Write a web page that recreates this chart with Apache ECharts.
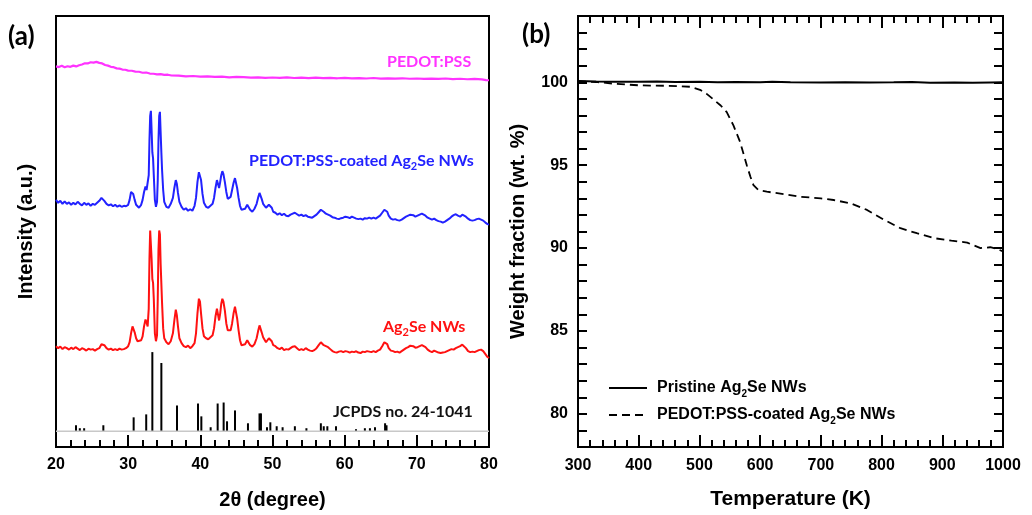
<!DOCTYPE html>
<html>
<head>
<meta charset="utf-8">
<script src="https://cdn.jsdelivr.net/npm/echarts@6/dist/echarts.min.js"></script>
<style>html,body{margin:0;padding:0;background:#fff}#c{width:1032px;height:515px}</style>
</head>
<body>
<div id="c"></div>
<script>
// ---------- Panel (a): XRD patterns, [2theta (deg), intensity (a.u., stacked offsets)] ----------
const pedotPss = [[20.0,385],[20.4,384.3],[20.8,385.6],[21.2,384.2],[21.6,385.2],[22.0,384.6],[22.4,385.8],[22.8,385],[23.2,386.2],[23.6,387],[24.0,388.2],[24.4,388],[24.8,389.2],[25.2,388.8],[25.6,389.6],[26.0,388.6],[26.4,388],[26.8,386.4],[27.2,385.8],[27.6,384.6],[28.0,384.2],[28.4,383],[28.8,382.8],[29.2,381.8],[29.6,381.6],[30.0,380.8],[30.5,380.6],[31.0,379.8],[31.5,379.6],[32.0,378.6],[32.5,378.8],[33.0,377.8],[33.5,377.6],[34.0,377],[34.5,377.2],[35.0,376.4],[35.5,376.6],[36.0,375.8],[37.0,375.6],[38.0,375],[39.0,375.3],[40.0,374.6],[41.0,375],[42.0,374.4],[43.0,374.6],[44.0,374],[45.0,374.4],[46.0,374.1],[47.0,373.6],[48.0,374],[49.0,373.5],[50.0,373.8],[51.0,373.4],[52.0,373.9],[53.0,373.3],[54.0,373.6],[55.0,373.2],[56.0,373.7],[57.0,373.1],[58.0,373.4],[59.0,373],[60.0,373.5],[61.0,372.9],[62.0,373.2],[63.0,372.8],[64.0,373.3],[65.0,372.7],[66.0,373],[67.0,372.6],[68.0,373],[69.0,372.5],[70.0,372.8],[71.0,372.4],[72.0,372.7],[73.0,372.3],[74.0,372.8],[75.0,372.2],[76.0,372.5],[77.0,372],[78.0,372.3],[79.0,371.8],[79.6,371.2],[80.0,371]];

const coatedAg2Se = [[20.0,250],[20.3,247],[20.6,249],[20.9,246],[21.2,248.5],[21.5,246],[21.8,247.5],[22.1,245],[22.4,247],[22.7,245.5],[23.0,248],[23.3,246],[23.6,244.5],[23.9,247],[24.2,245],[24.5,246.5],[24.8,244],[25.1,246],[25.4,245],[25.7,247],[26.0,249],[26.3,252],[26.5,253],[26.7,249],[27.0,246],[27.3,244.5],[27.6,245.5],[27.9,243.5],[28.2,245],[28.5,243],[28.8,244.5],[29.1,243],[29.4,244],[29.7,243.5],[30.0,245],[30.2,250],[30.4,258],[30.55,260],[30.7,256],[30.9,250],[31.1,245],[31.3,243],[31.5,242],[31.8,245],[32.0,250],[32.2,258],[32.4,263.5],[32.55,260],[32.7,258],[32.85,275],[32.95,310],[33.05,335],[33.15,340],[33.25,320],[33.35,298],[33.45,292],[33.55,275],[33.7,250],[33.85,243],[34.0,248],[34.1,270],[34.2,310],[34.3,335],[34.4,339],[34.5,318],[34.6,298],[34.7,280],[34.85,260],[35.0,248],[35.3,243],[35.6,242],[35.9,246],[36.2,252],[36.4,262],[36.6,270],[36.75,266],[36.9,257],[37.1,248],[37.4,243],[37.7,240],[38.0,241.5],[38.3,239],[38.6,240.5],[38.9,239],[39.2,244],[39.4,252],[39.6,268],[39.8,278],[39.95,279],[40.1,270],[40.3,256],[40.5,247],[40.8,243],[41.1,242],[41.4,244],[41.7,246],[41.9,252],[42.1,262],[42.3,270],[42.45,268],[42.6,262],[42.75,268],[42.9,275],[43.05,279],[43.2,276],[43.4,268],[43.6,258],[43.8,251],[44.0,250],[44.2,253],[44.4,260],[44.6,267],[44.8,272],[44.95,270],[45.1,262],[45.3,252],[45.5,244],[45.7,240],[45.9,239],[46.2,241],[46.5,245],[46.7,243],[46.9,240],[47.2,238],[47.5,241],[47.8,246],[48.0,252],[48.2,257],[48.35,256],[48.5,251],[48.7,246],[48.9,245],[49.1,242],[49.3,243],[49.5,245],[49.7,246],[49.9,242],[50.1,238],[50.4,237],[50.7,235],[51.0,236.5],[51.3,234.5],[51.6,236],[51.9,234],[52.2,233.5],[52.5,235],[52.8,236],[53.1,237],[53.4,235.5],[53.7,234],[54.0,235],[54.3,233.5],[54.6,234.5],[54.9,233],[55.2,232.5],[55.5,232],[55.8,233.5],[56.1,235],[56.4,237.5],[56.7,240],[56.9,240.5],[57.1,238],[57.4,236],[57.7,235],[58.0,234],[58.3,232.5],[58.6,232],[58.9,231],[59.2,230.5],[59.5,231.5],[59.8,232],[60.1,233],[60.4,232.5],[60.7,231.5],[61.0,233],[61.3,232],[61.6,231],[61.9,230.5],[62.2,231],[62.5,230],[62.8,231.5],[63.1,231],[63.4,232],[63.7,231],[64.0,232],[64.3,231],[64.6,232.5],[64.9,234],[65.2,237],[65.5,240],[65.7,240.5],[65.9,238],[66.1,234],[66.4,231],[66.7,230],[67.0,230.5],[67.3,229.5],[67.6,229],[67.9,230],[68.2,231.5],[68.5,233],[68.8,234],[69.1,235],[69.3,236],[69.5,234.5],[69.8,233],[70.1,234],[70.4,235],[70.7,236],[70.9,235.5],[71.2,234],[71.5,232],[71.8,231],[72.1,230],[72.4,231],[72.7,229.5],[73.0,228.5],[73.3,228],[73.6,227],[73.9,228],[74.2,229.5],[74.5,231],[74.8,233],[75.1,234.5],[75.4,235.5],[75.7,234],[76.0,233],[76.3,235],[76.5,235.5],[76.8,233],[77.1,231],[77.4,229.5],[77.7,229],[78.0,229.5],[78.3,230.5],[78.6,231],[78.9,230],[79.2,229],[79.5,227],[79.8,225.5],[80.0,225]];

const ag2seNWs = [[20.0,102],[20.3,100],[20.6,101.5],[20.9,99],[21.2,101],[21.5,100],[21.8,98.5],[22.1,100.5],[22.4,99],[22.7,101],[23.0,99.5],[23.3,98],[23.6,100],[23.9,99],[24.2,97.5],[24.5,99.5],[24.8,98.5],[25.1,99],[25.4,97.5],[25.7,99],[26.0,100],[26.3,104],[26.5,106],[26.7,103],[27.0,100],[27.3,98.5],[27.6,99.5],[27.9,98],[28.2,99],[28.5,98],[28.8,99.5],[29.1,98.5],[29.4,99],[29.7,100],[30.0,102],[30.2,106],[30.4,115],[30.6,122],[30.75,123],[30.9,116],[31.1,110],[31.3,107],[31.5,106],[31.8,108],[32.0,112],[32.2,122],[32.4,129],[32.55,126],[32.7,122],[32.85,140],[32.95,190],[33.05,219],[33.15,218],[33.25,190],[33.35,170],[33.45,166],[33.55,150],[33.7,115],[33.85,107],[34.0,113],[34.1,150],[34.2,200],[34.3,219],[34.4,215],[34.5,185],[34.6,165],[34.7,145],[34.85,120],[35.0,110],[35.3,106],[35.6,104],[35.9,107],[36.2,115],[36.4,128],[36.6,139],[36.75,133],[36.9,122],[37.1,110],[37.4,105],[37.7,102],[38.0,101],[38.3,102.5],[38.6,100],[38.9,102],[39.2,105],[39.4,115],[39.6,135],[39.8,150],[39.95,147],[40.1,135],[40.3,120],[40.5,112],[40.8,110],[41.1,109],[41.4,111],[41.7,113],[41.9,120],[42.1,132],[42.3,140],[42.45,138],[42.6,128],[42.75,135],[42.9,145],[43.05,150],[43.2,147],[43.4,138],[43.6,125],[43.8,118],[44.0,116],[44.2,118],[44.4,125],[44.6,135],[44.8,142],[44.95,140],[45.1,130],[45.3,118],[45.5,108],[45.7,103],[45.9,102],[46.2,104],[46.5,108],[46.7,106],[46.9,103],[47.2,101.5],[47.5,104],[47.8,110],[48.0,117],[48.2,123],[48.35,122],[48.5,116],[48.7,111],[48.9,110],[49.1,106],[49.3,107],[49.5,110],[49.7,111],[49.9,107],[50.1,103],[50.4,102],[50.7,100],[51.0,99],[51.3,100.5],[51.6,98],[51.9,99],[52.2,98.5],[52.5,100],[52.8,101.5],[53.1,102],[53.4,100],[53.7,98],[54.0,99],[54.3,98],[54.6,100],[54.9,98.5],[55.2,97.5],[55.5,97],[55.8,98],[56.1,100],[56.4,103],[56.7,106],[56.9,105.5],[57.1,103],[57.4,102],[57.7,101],[58.0,99],[58.3,97],[58.6,96],[58.9,95.5],[59.2,96.5],[59.5,97],[59.8,96],[60.1,97],[60.4,96.5],[60.7,95.5],[61.0,96.5],[61.3,96],[61.6,96.8],[61.9,95.5],[62.2,95],[62.5,96.5],[62.8,96],[63.1,97],[63.4,96.5],[63.7,96],[64.0,97],[64.3,96],[64.6,97.5],[64.9,98.5],[65.2,102],[65.5,106],[65.7,107],[65.9,104],[66.1,100],[66.4,97.5],[66.7,97],[67.0,96],[67.3,96.5],[67.6,95.5],[67.9,97],[68.2,98.5],[68.5,100],[68.8,101],[69.1,102.5],[69.3,104],[69.5,102],[69.8,100.5],[70.1,101],[70.4,102],[70.7,103],[70.9,103.5],[71.2,101],[71.5,98.5],[71.8,97],[72.1,96],[72.4,97.5],[72.7,96.5],[73.0,95.5],[73.3,95],[73.6,95.5],[73.9,96],[74.2,97],[74.5,98],[74.8,99],[75.1,98.5],[75.4,100],[75.7,101],[76.0,102],[76.3,103.5],[76.5,103],[76.8,100],[77.1,97],[77.4,96],[77.7,96.5],[78.0,96],[78.3,97],[78.6,98],[78.9,98.5],[79.2,97],[79.5,94],[79.8,91],[80.0,90]];

// JCPDS no. 24-1041 reference lines: [2theta, relative height]
const jcpdsLines = [[22.77,6],[23.3,3],[23.9,3],[26.56,6],[30.76,14],[32.5,17],[33.35,80],[34.6,69],[36.77,26],[39.68,28],[40.14,15],[41.43,4],[42.4,28],[43.23,29],[43.7,10],[44.8,21],[46.6,8],[48.2,18],[48.4,18],[49.24,4],[49.7,9],[50.58,5],[51.4,4],[53.1,5],[54.7,3],[56.7,8],[57.1,5],[57.6,5],[58.8,5],[61.57,2],[62.8,3],[63.5,3],[64.2,4],[65.6,8],[65.8,6]];
const jcpdsBaseline = 16;
const xrdRange = [20, 80];

// ---------- Panel (b): TGA, [Temperature (K), weight fraction (wt.%)] ----------
const pristineTGA = [[300,100.08],[330,100.05],[360,100.04],[400,100.03],[430,100.05],[460,100.02],[500,100.03],[530,100.01],[560,100.02],[600,100.0],[620,100.03],[650,100.0],[700,99.99],[740,100.01],[780,99.99],[820,100.0],[850,100.02],[880,99.98],[920,99.99],[950,99.97],[980,99.99],[1000,100.0]];
const coatedTGA = [[300,100.06],[330,100.02],[364,99.9],[400,99.82],[419,99.8],[450,99.79],[485,99.73],[501,99.55],[512,99.3],[523,98.97],[535,98.6],[545,98.2],[556,97.4],[567,96.4],[578,95.0],[584,94.3],[589,93.8],[597,93.5],[611,93.4],[640,93.25],[666,93.1],[700,93.0],[721,92.9],[749,92.7],[776,92.3],[803,91.73],[831,91.2],[858,90.9],[886,90.6],[915,90.45],[941,90.33],[963,90.0],[979,90.05],[990,89.95],[1000,89.8]];
const tgaNames = ['Pristine Ag2Se NWs', 'PEDOT:PSS-coated Ag2Se NWs'];

const chart = echarts.init(document.getElementById('c'), null, {renderer: 'canvas'});
const AR = 'Liberation Sans';
const tickStyle = {color: '#000', width: 2};
const subRich = (color, family, size) => ({sub: {fontSize: size, lineHeight: 10, verticalAlign: 'bottom', fontFamily: family, fontWeight: 'bold', color: color, fill: color}});
const richText = (txt, x, y, color, size) => ({
  type: 'text', x: x, y: y, z: 100,
  style: {text: txt, fontFamily: 'Lato', fontWeight: 'bold', fontSize: size, fill: color, lineHeight: 22, verticalAlign: 'middle', align: 'left', rich: subRich(color, 'Lato', 11)}
});
const plainNum = v => String(v);

const option = {
  animation: false,
  backgroundColor: '#fff',
  textStyle: {fontFamily: AR},
  grid: [
    {left: 56, top: 16, width: 433, height: 436, show: true, borderColor: '#000', borderWidth: 2, backgroundColor: 'transparent', containLabel: false},
    {left: 578, top: 16, width: 425, height: 436, show: true, borderColor: '#000', borderWidth: 2, backgroundColor: 'transparent', containLabel: false}
  ],
  xAxis: [
    {gridIndex: 0, type: 'value', min: xrdRange[0], max: xrdRange[1], interval: 10,
      axisLine: {show: false}, splitLine: {show: false},
      axisTick: {inside: true, length: 12, lineStyle: tickStyle},
      minorTick: {show: true, splitNumber: 5, length: 7, lineStyle: tickStyle},
      axisLabel: {margin: 10, color: '#000', fontWeight: 'bold', fontSize: 16, fontFamily: AR, formatter: plainNum},
      name: '2θ (degree)', nameLocation: 'middle', nameGap: 43,
      nameTextStyle: {color: '#000', fontWeight: 'bold', fontSize: 20, fontFamily: AR}},
    {gridIndex: 1, type: 'value', min: 300, max: 1000, interval: 100,
      axisLine: {show: false}, splitLine: {show: false},
      axisTick: {inside: true, length: 12, lineStyle: tickStyle},
      minorTick: {show: true, splitNumber: 5, length: 7, lineStyle: tickStyle},
      axisLabel: {margin: 11, color: '#000', fontWeight: 'bold', fontSize: 16, fontFamily: AR, formatter: plainNum},
      name: 'Temperature (K)', nameLocation: 'middle', nameGap: 42,
      nameTextStyle: {color: '#000', fontWeight: 'bold', fontSize: 21, fontFamily: AR}},
    {gridIndex: 1, type: 'value', position: 'top', min: 300, max: 1000, interval: 100,
      axisLine: {show: false}, splitLine: {show: false},
      axisTick: {inside: true, length: 12, lineStyle: tickStyle},
      minorTick: {show: true, splitNumber: 5, length: 7, lineStyle: tickStyle},
      axisLabel: {show: false}}
  ],
  yAxis: [
    {gridIndex: 0, type: 'value', min: 0, max: 436,
      axisLine: {show: false}, axisTick: {show: false}, axisLabel: {show: false}, splitLine: {show: false},
      name: 'Intensity (a.u.)', nameLocation: 'middle', nameGap: 20, nameRotate: 90,
      nameTextStyle: {color: '#000', fontWeight: 'bold', fontSize: 20, fontFamily: AR}},
    {gridIndex: 1, type: 'value', min: 78, max: 104, interval: 1,
      axisLine: {show: false}, splitLine: {show: false},
      axisTick: {inside: true, length: 9, lineStyle: tickStyle},
      axisLabel: {margin: 10, color: '#000', fontWeight: 'bold', fontSize: 16, fontFamily: AR,
        formatter: v => (v % 5 === 0 ? String(v) : '')},
      name: 'Weight fraction (wt. %)', nameLocation: 'middle', nameGap: 50, nameRotate: 90,
      nameTextStyle: {color: '#000', fontWeight: 'bold', fontSize: 20, fontFamily: AR}},
    {gridIndex: 1, type: 'value', position: 'right', min: 78, max: 104, interval: 1,
      axisLine: {show: false}, splitLine: {show: false},
      axisTick: {inside: true, length: 9, lineStyle: tickStyle},
      axisLabel: {show: false}}
  ],
  legend: {
    data: tgaNames, left: 603, top: 372, orient: 'vertical',
    itemWidth: 38, itemHeight: 14, itemGap: 5,
    itemStyle: {opacity: 0, borderWidth: 0},
    formatter: n => n.replace('Ag2Se', 'Ag{sub|2}Se'),
    textStyle: {fontFamily: AR, fontWeight: 'bold', fontSize: 16, color: '#000', lineHeight: 22, padding: [0, 0, 0, 5],
      rich: subRich('#000', AR, 10)}
  },
  series: [
    {name: 'PEDOT:PSS', type: 'line', xAxisIndex: 0, yAxisIndex: 0, data: pedotPss, symbol: 'none', smooth: false,
      lineStyle: {color: '#ff33ff', width: 2.2}},
    {name: 'PEDOT:PSS-coated Ag2Se NWs (XRD)', type: 'line', xAxisIndex: 0, yAxisIndex: 0, data: coatedAg2Se, symbol: 'none',
      lineStyle: {color: '#2222ff', width: 2}},
    {name: 'Ag2Se NWs', type: 'line', xAxisIndex: 0, yAxisIndex: 0, data: ag2seNWs, symbol: 'none',
      lineStyle: {color: '#ff1111', width: 2}},
    {name: 'JCPDS baseline', type: 'line', xAxisIndex: 0, yAxisIndex: 0, data: [[xrdRange[0], jcpdsBaseline], [xrdRange[1], jcpdsBaseline]],
      symbol: 'none', silent: true, lineStyle: {color: '#c8c8c8', width: 1.5}},
    {name: 'JCPDS no. 24-1041', type: 'custom', xAxisIndex: 0, yAxisIndex: 0, data: jcpdsLines,
      encode: {x: 0, y: 1},
      renderItem: (params, api) => {
        const x = api.value(0), h = api.value(1);
        const p0 = api.coord([x, jcpdsBaseline]);
        const p1 = api.coord([x, jcpdsBaseline + h]);
        return {type: 'line', shape: {x1: p0[0], y1: p0[1], x2: p1[0], y2: p1[1]}, style: {stroke: '#000', lineWidth: 2}};
      }},
    {name: tgaNames[0], type: 'line', xAxisIndex: 1, yAxisIndex: 1, data: pristineTGA, symbol: 'none',
      itemStyle: {color: '#000'}, lineStyle: {color: '#000', width: 2}},
    {name: tgaNames[1], type: 'line', xAxisIndex: 1, yAxisIndex: 1, data: coatedTGA, symbol: 'none',
      itemStyle: {color: '#000'}, lineStyle: {color: '#000', width: 1.8, type: [8, 5]}}
  ],
  graphic: [
    {type: 'text', x: 8, y: 37, z: 100, style: {text: '(a)', fontFamily: 'Lato', fontWeight: 'bold', fontSize: 26, fill: '#000', verticalAlign: 'middle'}},
    {type: 'text', x: 522, y: 35, z: 100, style: {text: '(b)', fontFamily: 'Lato', fontWeight: 'bold', fontSize: 26, fill: '#000', verticalAlign: 'middle'}},
    richText('PEDOT:PSS', 387, 62, '#ff33ff', 16),
    richText('PEDOT:PSS-coated Ag{sub|2}Se NWs', 249, 161, '#2222ff', 16),
    richText('Ag{sub|2}Se NWs', 383, 327, '#ff1111', 16),
    richText('JCPDS no. 24-1041', 333, 412, '#111', 16)
  ]
};
chart.setOption(option);
</script>
</body>
</html>
